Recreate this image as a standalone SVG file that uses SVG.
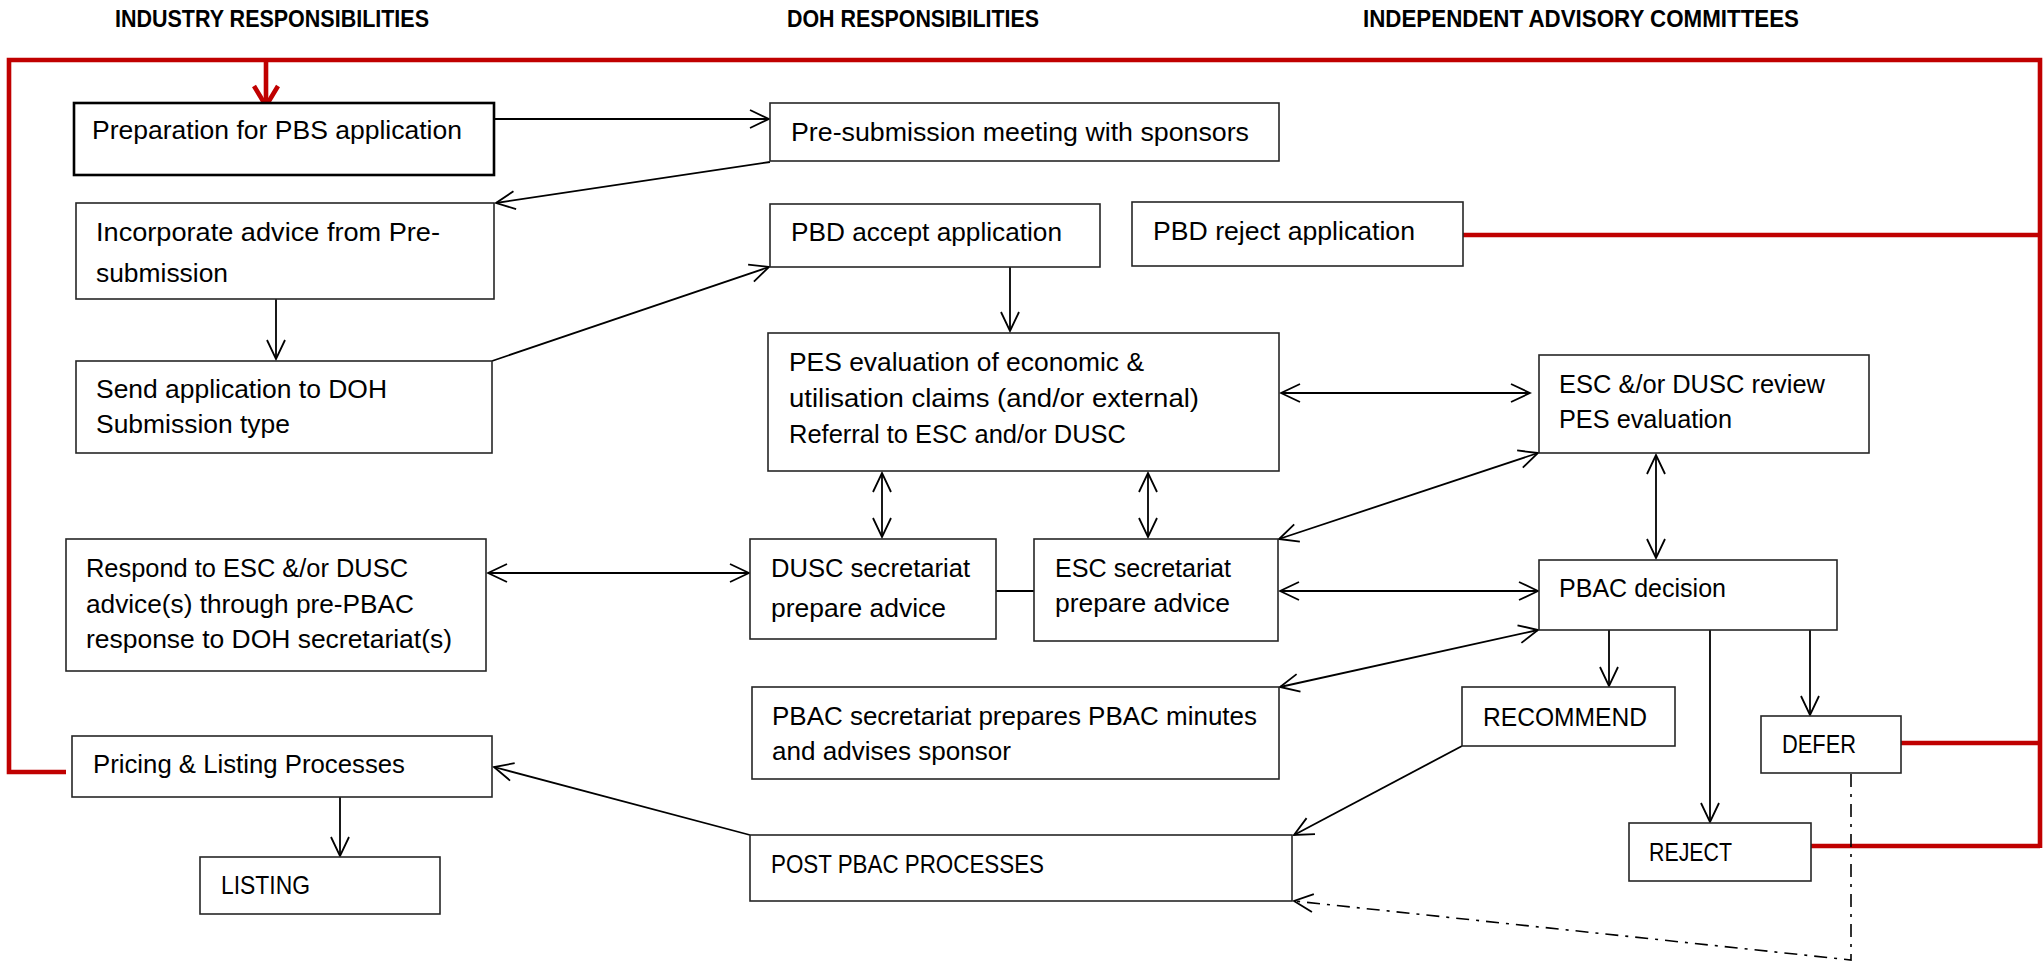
<svg xmlns="http://www.w3.org/2000/svg" width="2044" height="962" viewBox="0 0 2044 962">
<style>
.b{fill:#fff;stroke:#262626;stroke-width:1.6}
.t{font-family:"Liberation Sans",Arial,sans-serif;font-size:26px;fill:#000}
.h{font-family:"Liberation Sans",Arial,sans-serif;font-size:23px;font-weight:bold;fill:#000}
.c{fill:none;stroke:#000;stroke-width:1.8}
.r{fill:none;stroke:#c00000;stroke-width:4.6}
.dd{fill:none;stroke:#000;stroke-width:1.6;stroke-dasharray:13 7 3 7}
</style>
<defs>
<marker id="a" viewBox="0 0 22 22" refX="20" refY="11" markerWidth="22" markerHeight="22" markerUnits="userSpaceOnUse" orient="auto-start-reverse">
<path d="M1,2 L20,11 L1,20" fill="none" stroke="#000" stroke-width="1.8"/>
</marker>
<marker id="ra" viewBox="0 0 26 30" refX="22" refY="15" markerWidth="26" markerHeight="30" markerUnits="userSpaceOnUse" orient="auto">
<path d="M2,3 L22,15 L2,27" fill="none" stroke="#c00000" stroke-width="4.6"/>
</marker>
</defs>
<g id="titles">
<text class="h" x="115" y="27" textLength="314" lengthAdjust="spacingAndGlyphs">INDUSTRY RESPONSIBILITIES</text>
<text class="h" x="787" y="27" textLength="252" lengthAdjust="spacingAndGlyphs">DOH RESPONSIBILITIES</text>
<text class="h" x="1363" y="27" textLength="436" lengthAdjust="spacingAndGlyphs">INDEPENDENT ADVISORY COMMITTEES</text>
</g>
<g id="connectors">
<path class="r" d="M66,772 L9,772 L9,60 L2040,60 L2040,848"/>
<path class="r" d="M266,60 L266,106" marker-end="url(#ra)"/>
<path class="r" d="M1463,235 L2040,235"/>
<path class="r" d="M1901,743 L2040,743"/>
<path class="r" d="M1811,846 L2040,846"/>
<path class="c" d="M494,119 L769,119" marker-end="url(#a)"/>
<path class="c" d="M770,162 L496,203" marker-end="url(#a)"/>
<path class="c" d="M276,299 L276,359" marker-end="url(#a)"/>
<path class="c" d="M492,361 L769,267" marker-end="url(#a)"/>
<path class="c" d="M1010,267 L1010,331" marker-end="url(#a)"/>
<path class="c" d="M1281,393 L1530,393" marker-start="url(#a)" marker-end="url(#a)"/>
<path class="c" d="M1656,455 L1656,558" marker-start="url(#a)" marker-end="url(#a)"/>
<path class="c" d="M882,473 L882,537" marker-start="url(#a)" marker-end="url(#a)"/>
<path class="c" d="M1148,473 L1148,537" marker-start="url(#a)" marker-end="url(#a)"/>
<path class="c" d="M1279,539 L1538,453" marker-start="url(#a)" marker-end="url(#a)"/>
<path class="c" d="M488,573 L749,573" marker-start="url(#a)" marker-end="url(#a)"/>
<path class="c" d="M996,591 L1034,591"/>
<path class="c" d="M1280,591 L1538,591" marker-start="url(#a)" marker-end="url(#a)"/>
<path class="c" d="M1280,687 L1538,630" marker-start="url(#a)" marker-end="url(#a)"/>
<path class="c" d="M1609,630 L1609,686" marker-end="url(#a)"/>
<path class="c" d="M1710,630 L1710,822" marker-end="url(#a)"/>
<path class="c" d="M1810,630 L1810,715" marker-end="url(#a)"/>
<path class="c" d="M1462,746 L1294,835" marker-end="url(#a)"/>
<path class="c" d="M750,835 L494,767" marker-end="url(#a)"/>
<path class="c" d="M340,797 L340,856" marker-end="url(#a)"/>
<path class="dd" d="M1851,774 L1851,960 L1294,901" marker-end="url(#a)"/>
</g>
<g id="n1"><rect class="b" x="74" y="103" width="420" height="72" style="stroke:#000;stroke-width:2.6"/><text class="t" x="92" y="139" textLength="370" lengthAdjust="spacingAndGlyphs">Preparation for PBS application</text></g>
<g id="n2"><rect class="b" x="770" y="103" width="509" height="58"/><text class="t" x="791" y="141" textLength="458" lengthAdjust="spacingAndGlyphs">Pre-submission meeting with sponsors</text></g>
<g id="n3"><rect class="b" x="76" y="203" width="418" height="96"/><text class="t" x="96" y="241" textLength="344" lengthAdjust="spacingAndGlyphs">Incorporate advice from Pre-</text><text class="t" x="96" y="282" textLength="132" lengthAdjust="spacingAndGlyphs">submission</text></g>
<g id="n4"><rect class="b" x="76" y="361" width="416" height="92"/><text class="t" x="96" y="398" textLength="291" lengthAdjust="spacingAndGlyphs">Send application to DOH</text><text class="t" x="96" y="433" textLength="194" lengthAdjust="spacingAndGlyphs">Submission type</text></g>
<g id="n5"><rect class="b" x="770" y="204" width="330" height="63"/><text class="t" x="791" y="241" textLength="271" lengthAdjust="spacingAndGlyphs">PBD accept application</text></g>
<g id="n6"><rect class="b" x="1132" y="202" width="331" height="64"/><text class="t" x="1153" y="240" textLength="262" lengthAdjust="spacingAndGlyphs">PBD reject application</text></g>
<g id="n7"><rect class="b" x="768" y="333" width="511" height="138"/><text class="t" x="789" y="371" textLength="355" lengthAdjust="spacingAndGlyphs">PES evaluation of economic &amp;</text><text class="t" x="789" y="407" textLength="410" lengthAdjust="spacingAndGlyphs">utilisation claims (and/or external)</text><text class="t" x="789" y="443" textLength="337" lengthAdjust="spacingAndGlyphs">Referral to ESC and/or DUSC</text></g>
<g id="n8"><rect class="b" x="1539" y="355" width="330" height="98"/><text class="t" x="1559" y="393" textLength="266" lengthAdjust="spacingAndGlyphs">ESC &amp;/or DUSC review</text><text class="t" x="1559" y="428" textLength="173" lengthAdjust="spacingAndGlyphs">PES evaluation</text></g>
<g id="n9"><rect class="b" x="66" y="539" width="420" height="132"/><text class="t" x="86" y="577" textLength="322" lengthAdjust="spacingAndGlyphs">Respond to ESC &amp;/or DUSC</text><text class="t" x="86" y="613" textLength="328" lengthAdjust="spacingAndGlyphs">advice(s) through pre-PBAC</text><text class="t" x="86" y="648" textLength="366" lengthAdjust="spacingAndGlyphs">response to DOH secretariat(s)</text></g>
<g id="n10"><rect class="b" x="750" y="539" width="246" height="100"/><text class="t" x="771" y="577" textLength="199" lengthAdjust="spacingAndGlyphs">DUSC secretariat</text><text class="t" x="771" y="617" textLength="175" lengthAdjust="spacingAndGlyphs">prepare advice</text></g>
<g id="n11"><rect class="b" x="1034" y="539" width="244" height="102"/><text class="t" x="1055" y="577" textLength="176" lengthAdjust="spacingAndGlyphs">ESC secretariat</text><text class="t" x="1055" y="612" textLength="175" lengthAdjust="spacingAndGlyphs">prepare advice</text></g>
<g id="n12"><rect class="b" x="1539" y="560" width="298" height="70"/><text class="t" x="1559" y="597" textLength="167" lengthAdjust="spacingAndGlyphs">PBAC decision</text></g>
<g id="n13"><rect class="b" x="752" y="687" width="527" height="92"/><text class="t" x="772" y="725" textLength="485" lengthAdjust="spacingAndGlyphs">PBAC secretariat prepares PBAC minutes</text><text class="t" x="772" y="760" textLength="239" lengthAdjust="spacingAndGlyphs">and advises sponsor</text></g>
<g id="n14"><rect class="b" x="1462" y="687" width="213" height="59"/><text class="t" x="1483" y="726" textLength="164" lengthAdjust="spacingAndGlyphs">RECOMMEND</text></g>
<g id="n15"><rect class="b" x="1761" y="716" width="140" height="57"/><text class="t" x="1782" y="753" textLength="74" lengthAdjust="spacingAndGlyphs">DEFER</text></g>
<g id="n16"><rect class="b" x="1629" y="823" width="182" height="58"/><text class="t" x="1649" y="861" textLength="83" lengthAdjust="spacingAndGlyphs">REJECT</text></g>
<g id="n17"><rect class="b" x="72" y="736" width="420" height="61"/><text class="t" x="93" y="773" textLength="312" lengthAdjust="spacingAndGlyphs">Pricing &amp; Listing Processes</text></g>
<g id="n18"><rect class="b" x="200" y="857" width="240" height="57"/><text class="t" x="221" y="894" textLength="89" lengthAdjust="spacingAndGlyphs">LISTING</text></g>
<g id="n19"><rect class="b" x="750" y="835" width="542" height="66"/><text class="t" x="771" y="873" textLength="273" lengthAdjust="spacingAndGlyphs">POST PBAC PROCESSES</text></g>
</svg>
